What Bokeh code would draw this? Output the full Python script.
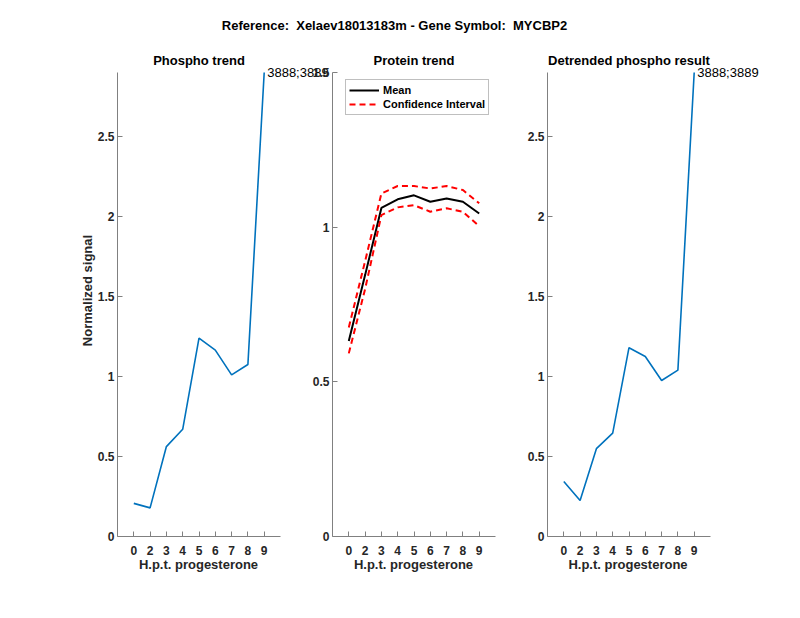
from bokeh.plotting import figure
from bokeh.models import FixedTicker, Label, Div, Legend, LegendItem
from bokeh.layouts import row, column
from bokeh.embed import file_html
from bokeh.resources import INLINE

# ---- data ----
time_labels = ["0", "2", "3", "4", "5", "6", "7", "8", "9"]
positions = [1, 2, 3, 4, 5, 6, 7, 8, 9]
phospho = [0.207, 0.179, 0.562, 0.670, 1.240, 1.165, 1.010, 1.075, 2.900]
protein_mean = [0.632, 0.845, 1.062, 1.090, 1.103, 1.082, 1.093, 1.082, 1.044]
protein_upper = [0.676, 0.890, 1.109, 1.133, 1.133, 1.125, 1.133, 1.120, 1.077]
protein_lower = [0.592, 0.800, 1.039, 1.064, 1.071, 1.050, 1.061, 1.050, 1.003]
detrended = [0.344, 0.225, 0.549, 0.646, 1.180, 1.125, 0.975, 1.040, 2.900]
point_label = "3888;3889"
x_label = "H.p.t. progesterone"
y_ticks_phospho = [0, 0.5, 1, 1.5, 2, 2.5]
y_ticks_protein = [0, 0.5, 1, 1.5]
x_max = 10

FONT = "Liberation Sans"
TXT = "#262626"
AX = "#808080"
BLUE = "#0072BD"

HEADER_H = 44
AXIS_H = 464          # pixel height of the drawn y axis
EXTRA_TOP = 28        # frame space above the axis top (for titles/labels)
FRAME_H = AXIS_H + EXTRA_TOP
BOTTOM = 24
AXIS_W = 163          # pixel width of the drawn x axis
TITLE_Y = 12          # px above axis top where subplot titles sit


def make_fig(width, left, right, title, ymax, yticks, ylabel=None):
    frame_w = width - left - right
    y_end = ymax * FRAME_H / AXIS_H
    p = figure(width=width, height=FRAME_H + BOTTOM,
               x_range=(0, x_max * frame_w / AXIS_W), y_range=(0, y_end),
               output_backend="svg", toolbar_location=None,
               min_border_left=left, min_border_right=right,
               min_border_top=0, min_border_bottom=BOTTOM)
    p.outline_line_color = None
    p.border_fill_color = None
    p.grid.visible = False
    for ax in (p.xaxis[0], p.yaxis[0]):
        ax.axis_line_color = AX
        ax.major_tick_line_color = AX
        ax.major_tick_in = 5
        ax.major_tick_out = 0
        ax.minor_tick_line_color = None
        ax.major_label_text_font = FONT
        ax.major_label_text_font_size = "12px"
        ax.major_label_text_font_style = "bold"
        ax.major_label_text_color = TXT
        ax.axis_label_text_font = FONT
        ax.axis_label_text_font_size = "13px"
        ax.axis_label_text_font_style = "bold"
        ax.axis_label_text_color = TXT
    p.xaxis.bounds = (0, x_max)
    p.yaxis.bounds = (0, ymax)
    p.xaxis.ticker = FixedTicker(ticks=positions)
    p.xaxis.major_label_overrides = {pos: lab for pos, lab in zip(positions, time_labels)}
    p.xaxis.major_label_standoff = 9
    p.yaxis.ticker = FixedTicker(ticks=yticks)
    p.yaxis.major_label_overrides = {t: (f"{t:g}") for t in yticks}
    p.yaxis.major_label_standoff = 3
    if ylabel:
        p.yaxis.axis_label = ylabel
        p.yaxis.axis_label_standoff = 0
    p.add_layout(Label(x=x_max / 2, y=ymax * (AXIS_H + TITLE_Y) / AXIS_H,
                       text=title, text_align="center", text_baseline="middle",
                       text_font=FONT, text_font_size="13px",
                       text_font_style="bold", text_color="#000000"))
    return p


def point_text(p, x, y):
    p.add_layout(Label(x=x, y=y, text=point_label, x_offset=3,
                       text_baseline="middle", text_align="left",
                       text_font=FONT, text_font_size="13px",
                       text_color="#000000"))


def xlabel_div(left_gap, width):
    return Div(text=x_label, width=width, height=20, margin=(0, 0, 0, left_gap),
               styles={"text-align": "center", "font-family": FONT,
                       "font-size": "13px", "font-weight": "bold",
                       "color": TXT, "line-height": "10px",
                       "width": f"{width}px", "white-space": "nowrap"})


# Left: phospho trend (frame reaches under the centre panel's left border)
p1 = make_fig(332, 117, 0, "Phospho trend", max(phospho), y_ticks_phospho,
              "Normalized signal")
p1.line(positions, phospho, line_color=BLUE, line_width=1.6)
point_text(p1, positions[-1], phospho[-1])

# Center: protein trend
p2 = make_fig(215, 30, 22, "Protein trend", 1.5, y_ticks_protein)
p2.margin = (0, 0, 0, -30)
r_mean = p2.line(positions, protein_mean, line_color="black", line_width=2)
r_up = p2.line(positions, protein_upper, line_color="red", line_width=2,
               line_dash="6 4")
r_lo = p2.line(positions, protein_lower, line_color="red", line_width=2,
               line_dash="6 4")
legend = Legend(items=[LegendItem(label="Mean", renderers=[r_mean]),
                       LegendItem(label="Confidence Interval", renderers=[r_up])],
                location=(13, AXIS_H - 8 - 35))
legend.label_text_font = FONT
legend.label_text_font_size = "11px"
legend.label_text_font_style = "bold"
legend.label_text_color = "#000000"
legend.border_line_color = AX
legend.border_line_width = 1
legend.glyph_width = 30
legend.glyph_height = 14
legend.label_height = 14
legend.spacing = 0
legend.padding = 3
legend.margin = 0
legend.label_standoff = 4
p2.add_layout(legend)

# Right: detrended
p3 = make_fig(272, 30, 0, "Detrended phospho result", max(detrended),
              y_ticks_phospho)
p3.line(positions, detrended, line_color=BLUE, line_width=1.6)
point_text(p3, positions[-1], detrended[-1])

header = Div(text="Reference:&nbsp; Xelaev18013183m - Gene Symbol:&nbsp; MYCBP2",
             width=789, height=HEADER_H, margin=0,
             styles={"text-align": "center", "font-family": FONT,
                     "font-size": "13px", "font-weight": "bold",
                     "color": "#000000", "line-height": "52px",
                     "width": "789px"})

xlabels = row(xlabel_div(117, 163), xlabel_div(52, 163), xlabel_div(52, 162),
              spacing=0)

layout = column(header, row(p1, p2, p3, spacing=0), xlabels, spacing=0)

with open("out.html", "w") as f:
    f.write(file_html(layout, INLINE))
